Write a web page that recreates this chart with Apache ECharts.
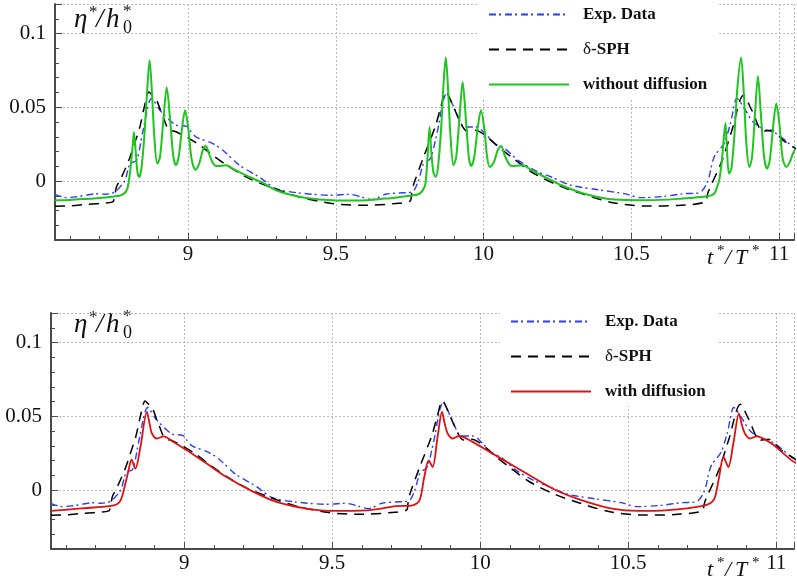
<!DOCTYPE html>
<html><head><meta charset="utf-8">
<script src="https://cdn.jsdelivr.net/npm/echarts@6/dist/echarts.min.js"></script>
<style>html,body{margin:0;padding:0;background:#fff}#c{width:797px;height:581px}</style>
</head><body><div id="c"></div>
<script>
// ---- data ----
const expT = [8.55,8.57,8.59,8.62,8.66,8.69,8.72,8.753,8.770,8.787,8.804,8.826,8.848,8.877,8.905,8.938,8.961,8.995,9.01,9.028,9.084,9.118,9.174,9.241,9.298,9.376,9.488,9.544,9.59,9.622,9.668,9.713,9.758,9.78,9.797,9.82,9.842,9.875,9.904,9.937,9.976,10.005,10.038,10.072,10.117,10.184,10.229,10.296,10.386,10.476,10.532,10.611,10.678,10.729,10.757,10.78,10.813,10.835,10.857,10.879,10.912,10.946,10.99,11.047,11.07];
const expV = [-0.009,-0.0105,-0.0113,-0.0108,-0.0095,-0.0086,-0.009,-0.0075,-0.004,0.0005,0.0118,0.014,0.0344,0.0559,0.048,0.0412,0.0378,0.0371,0.0335,0.0298,0.0254,0.0208,0.0107,0.0027,-0.0052,-0.0081,-0.0097,-0.009,-0.011,-0.0126,-0.009,-0.0081,-0.0075,0.0005,0.0118,0.0152,0.0322,0.0593,0.048,0.0366,0.0366,0.0322,0.0254,0.022,0.014,0.0061,0.0027,-0.0029,-0.0059,-0.0086,-0.0113,-0.0104,-0.0086,-0.0081,-0.0007,0.0163,0.0254,0.0389,0.0559,0.0502,0.04,0.0355,0.0322,0.0231,0.02];

const sphT = [8.55,8.60,8.65,8.70,8.745,8.752,8.758,8.77,8.787,8.804,8.82,8.837,8.852,8.868,8.88,8.894,8.905,8.916,8.933,8.961,8.995,9.04,9.084,9.14,9.208,9.286,9.376,9.488,9.60,9.70,9.752,9.756,9.762,9.797,9.836,9.855,9.872,9.898,9.926,9.943,9.971,10.005,10.05,10.094,10.162,10.252,10.341,10.442,10.554,10.667,10.751,10.756,10.762,10.807,10.84,10.879,10.907,10.946,10.974,11.013,11.047,11.07];
const sphV = [-0.0172,-0.0168,-0.016,-0.0152,-0.0142,-0.01,-0.004,0.0005,0.008,0.0163,0.026,0.0366,0.05,0.0604,0.058,0.0547,0.049,0.0434,0.0355,0.0332,0.0298,0.0242,0.0174,0.0095,0.0016,-0.0047,-0.0108,-0.0153,-0.0165,-0.0153,-0.0135,-0.009,-0.003,0.0163,0.0366,0.05,0.0604,0.0502,0.0378,0.0339,0.0344,0.031,0.0231,0.0163,0.0061,-0.0029,-0.0092,-0.0149,-0.017,-0.0165,-0.0142,-0.01,-0.0063,0.014,0.0344,0.0581,0.048,0.0337,0.0344,0.0276,0.0231,0.02];

const noDiffT = [8.55,8.60,8.65,8.70,8.75,8.78,8.795,8.805,8.812,8.817,8.823,8.829,8.835,8.842,8.852,8.862,8.870,8.878,8.886,8.896,8.905,8.916,8.928,8.940,8.950,8.959,8.968,8.980,8.990,9.000,9.012,9.025,9.038,9.050,9.060,9.072,9.086,9.096,9.115,9.129,9.15,9.208,9.25,9.298,9.35,9.40,9.487,9.55,9.60,9.65,9.70,9.75,9.78,9.795,9.803,9.810,9.817,9.823,9.830,9.838,9.846,9.856,9.865,9.872,9.879,9.888,9.898,9.907,9.918,9.929,9.940,9.950,9.958,9.968,9.980,9.991,10.002,10.012,10.021,10.035,10.048,10.059,10.072,10.088,10.10,10.118,10.134,10.16,10.195,10.263,10.341,10.442,10.554,10.667,10.757,10.78,10.790,10.797,10.806,10.812,10.818,10.823,10.830,10.838,10.848,10.858,10.871,10.880,10.889,10.899,10.908,10.918,10.928,10.938,10.949,10.959,10.968,10.980,10.990,11.000,11.012,11.024,11.036,11.049,11.07];
const noDiffV = [-0.0131,-0.0128,-0.0122,-0.0115,-0.0105,-0.009,-0.005,0.008,0.022,0.0332,0.02,0.006,0.0027,0.008,0.03,0.062,0.0819,0.06,0.03,0.0118,0.016,0.04,0.0634,0.04,0.017,0.0107,0.016,0.036,0.048,0.037,0.015,0.0077,0.012,0.021,0.0238,0.018,0.0115,0.0102,0.0104,0.0107,0.0085,0.0027,-0.001,-0.0063,-0.0095,-0.0115,-0.0131,-0.0133,-0.0131,-0.0122,-0.0113,-0.01,-0.009,-0.006,-0.002,0.015,0.0366,0.02,0.006,0.0027,0.01,0.035,0.068,0.0837,0.065,0.03,0.0107,0.016,0.042,0.0672,0.042,0.016,0.0102,0.016,0.036,0.048,0.036,0.016,0.0095,0.013,0.021,0.0238,0.017,0.011,0.0102,0.0105,0.0107,0.0075,0.0039,-0.0029,-0.0086,-0.0126,-0.0131,-0.012,-0.0104,-0.0086,-0.004,0.0005,0.014,0.028,0.0394,0.022,0.005,0.008,0.03,0.062,0.0837,0.06,0.025,0.0095,0.016,0.045,0.071,0.045,0.016,0.0084,0.014,0.038,0.0525,0.04,0.015,0.0095,0.013,0.0197,0.026];

const diffT = [8.55,8.65,8.762,8.785,8.801,8.812,8.822,8.835,8.852,8.874,8.883,8.891,8.908,8.93,8.964,9.009,9.076,9.143,9.222,9.312,9.413,9.503,9.615,9.716,9.772,9.795,9.811,9.826,9.839,9.856,9.871,9.880,9.89,9.907,9.929,9.974,10.041,10.109,10.176,10.254,10.344,10.445,10.535,10.625,10.748,10.788,10.805,10.822,10.838,10.855,10.874,10.884,10.894,10.911,10.934,10.984,11.052,11.07];
const diffV = [-0.0142,-0.0125,-0.0104,-0.007,0.0043,0.0134,0.0206,0.0145,0.0292,0.0529,0.045,0.0383,0.0349,0.0364,0.0326,0.0269,0.0179,0.0088,0.0,-0.0081,-0.0126,-0.0142,-0.0138,-0.011,-0.0104,-0.007,0.0088,0.0201,0.0156,0.036,0.0529,0.045,0.0383,0.0349,0.0366,0.0326,0.0247,0.0168,0.0088,0.0,-0.007,-0.0126,-0.0142,-0.0138,-0.011,-0.007,0.0066,0.0224,0.0156,0.0315,0.0518,0.044,0.0383,0.0349,0.0364,0.0315,0.0201,0.018];

const xTickValues = [9, 9.5, 10, 10.5, 11];
const xTickLabels = ['9', '9.5', '10', '10.5', '11'];
const yTickValues = [0, 0.05, 0.1];
const yTickLabels = ['0', '0.05', '0.1'];
const seriesNames = ['Exp. Data', 'δ-SPH', 'without diffusion', 'with diffusion'];

// ---- chart ----
const pairs = (t, v) => t.map((x, i) => [x, v[i]]);
const serif = 'Liberation Serif';
const axisCol = '#4a4a4a';
function fmt(vals, labs) {
  return function (v) {
    for (let i = 0; i < vals.length; i++) if (Math.abs(v - vals[i]) < 1e-6) return labs[i];
    return '';
  };
}
const grids = [
  { left: 55, top: 4, width: 742.5, height: 236 },
  { left: 51, top: 313, width: 746, height: 236 }
];
const xMax = [11.05, 11.06];
const xAxis = [], yAxis = [];
const gridLine = { show: true, lineStyle: { color: '#b8b8b8', width: 1, type: [2, 2] } };
grids.forEach((g, gi) => {
  xAxis.push({ gridIndex: gi, type: 'value', position: 'bottom', min: 8.55, max: xMax[gi], splitNumber: 25,
    axisLine: { show: true, onZero: false, lineStyle: { color: axisCol, width: 2 } },
    axisTick: { show: true, inside: true, length: 4, lineStyle: { color: axisCol } },
    axisLabel: { show: false }, splitLine: { show: false } });
  xAxis.push({ gridIndex: gi, type: 'value', position: 'bottom', min: 8.55, max: xMax[gi], splitNumber: 5,
    axisLine: { show: false, onZero: false },
    axisTick: { show: true, inside: true, length: 7, lineStyle: { color: axisCol } },
    axisLabel: { show: true, margin: 4, color: '#111', fontFamily: serif, fontSize: 21, formatter: fmt(xTickValues, xTickLabels) },
    splitLine: gridLine });
  yAxis.push({ gridIndex: gi, type: 'value', position: 'left', min: -0.04, max: 0.12, interval: 0.01,
    axisLine: { show: true, onZero: false, lineStyle: { color: axisCol, width: 2 } },
    axisTick: { show: true, inside: true, length: 4, lineStyle: { color: axisCol } },
    axisLabel: { show: false }, splitLine: { show: false } });
  yAxis.push({ gridIndex: gi, type: 'value', position: 'left', min: -0.04, max: 0.12, splitNumber: 3,
    axisLine: { show: false, onZero: false },
    axisTick: { show: true, inside: true, length: 7, lineStyle: { color: axisCol } },
    axisLabel: { show: true, margin: 9, color: '#111', fontFamily: serif, fontSize: 21, formatter: fmt(yTickValues, yTickLabels) },
    splitLine: gridLine });
});

function line(name, t, v, gi, color, type, width) {
  return { name, type: 'line', xAxisIndex: gi * 2, yAxisIndex: gi * 2, data: pairs(t, v),
    showSymbol: false, symbol: 'none', smooth: 0.3, animation: false,
    lineStyle: { color, width, type }, itemStyle: { color } };
}
const blue = '#2f3cf0', green = '#1ec51e', red = '#e01010';
const series = [
  line(seriesNames[0], expT, expV, 0, blue, [7, 3, 2, 4], 1.4),
  line(seriesNames[1], sphT, sphV, 0, '#000', [10, 7], 1.5),
  line(seriesNames[2], noDiffT, noDiffV, 0, green, 'solid', 2),
  line(seriesNames[0], expT, expV, 1, blue, [7, 3, 2, 4], 1.4),
  line(seriesNames[1], sphT, sphV, 1, '#000', [10, 7], 1.5),
  line(seriesNames[3], diffT, diffV, 1, red, 'solid', 1.8)
];

function legend(names, left, top) {
  return { data: names, orient: 'vertical', left, top, padding: [6, 12, 6, 10], backgroundColor: '#fff',
    itemWidth: 80, itemHeight: 14, itemGap: 18, selectedMode: false, itemStyle: { opacity: 0 },
    formatter: n => n.charAt(0) === 'δ' ? '{g|δ}' + n.slice(1) : n,
    textStyle: { fontFamily: serif, fontWeight: 'bold', fontSize: 17, color: '#111', padding: [0, 0, 0, 9],
      rich: { g: { fontFamily: serif, fontWeight: 'normal', fontSize: 17, color: '#111' } } } };
}

function labelY(dy) {
  const f = 'italic 27px ' + serif, s = '17px ' + serif;
  return [
    { type: 'text', left: 74, top: 6 + dy, style: { text: 'η', font: f, fill: '#111' } },
    { type: 'text', left: 89, top: 4 + dy, style: { text: '*', font: s, fill: '#111' } },
    { type: 'text', left: 96, top: 6 + dy, style: { text: '/', font: f, fill: '#111' } },
    { type: 'text', left: 106, top: 6 + dy, style: { text: 'h', font: f, fill: '#111' } },
    { type: 'text', left: 123, top: 3 + dy, style: { text: '*', font: s, fill: '#111' } },
    { type: 'text', left: 123, top: 19 + dy, style: { text: '0', font: '18px ' + serif, fill: '#111' } }
  ];
}
function labelX(dy) {
  const f = 'italic 22px ' + serif, s = '15px ' + serif;
  return [
    { type: 'text', left: 707, top: 247 + dy, style: { text: 't', font: f, fill: '#111' } },
    { type: 'text', left: 717, top: 244 + dy, style: { text: '*', font: s, fill: '#111' } },
    { type: 'text', left: 725, top: 247 + dy, style: { text: '/', font: f, fill: '#111' } },
    { type: 'text', left: 735, top: 247 + dy, style: { text: 'T', font: f, fill: '#111' } },
    { type: 'text', left: 752, top: 244 + dy, style: { text: '*', font: s, fill: '#111' } }
  ];
}

const chart = echarts.init(document.getElementById('c'), null, { renderer: 'canvas' });
chart.setOption({
  backgroundColor: '#fff',
  animation: false,
  grid: grids,
  xAxis, yAxis, series,
  legend: [
    legend([seriesNames[0], seriesNames[1], seriesNames[2]], 478, 0),
    legend([seriesNames[0], seriesNames[1], seriesNames[3]], 500, 307)
  ],
  graphic: [].concat(labelY(0), labelY(305), labelX(0), labelX(312))
});
</script></body></html>
